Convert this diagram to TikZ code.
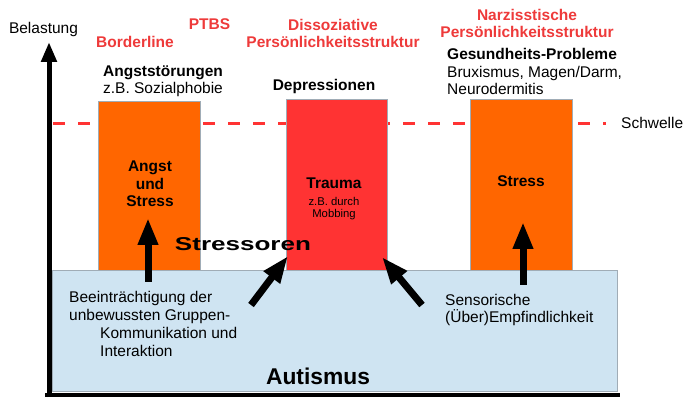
\documentclass[tikz,border=0pt]{standalone}
\usepackage{fontspec}
\usepackage{graphicx}
\usepackage{xcolor}
\setmainfont{Liberation Sans}
\usetikzlibrary{arrows.meta}

\definecolor{barorange}{RGB}{255,102,0}
\definecolor{barred}{RGB}{255,51,51}
\definecolor{labelred}{RGB}{238,58,58}
\definecolor{autblue}{RGB}{207,228,242}
\definecolor{edgegray}{RGB}{160,172,182}

\begin{document}
\begin{tikzpicture}[x=1pt,y=1pt,yscale=-1,xscale=1,
  every node/.style={inner sep=0pt,font=\fontsize{15.5}{17.8}\selectfont},
  redlabel/.style={text=labelred,font=\fontsize{15.5}{17.8}\selectfont\bfseries},
  boldlabel/.style={font=\fontsize{15.5}{17.8}\selectfont\bfseries},
  bar/.style={draw=edgegray,line width=0.6,anchor=north west},
  bigarrow/.style={line width=7,-{Triangle[length=27pt,width=19pt]}}]
\useasboundingbox (0,0) rectangle (683,398);

%Dashed threshold
\coordinate (schwelleL) at (53,124);
\coordinate (schwelleR) at (606,124);
\draw [draw=barred,line width=3,dash pattern={on 12pt off 13pt}] (schwelleL) -- (schwelleR) ;

%Shape: Rectangle (Autismus)
\node [draw=edgegray,line width=0.6,fill=autblue,anchor=north west,minimum width=565,minimum height=121] (autbox) at (52,270) {};
%Shape: Rectangles (bars)
\node [bar,fill=barorange,minimum width=102,minimum height=169] (angstbar) at (98,101) {};
\node [bar,fill=barred,minimum width=101,minimum height=171] (traumabar) at (286,99) {};
\node [bar,fill=barorange,minimum width=102,minimum height=171] (stressbar) at (470,99) {};

%Axes
\coordinate (origin) at (49,397);
\coordinate (ytop) at (49,42);
\coordinate (xleft) at (45,395);
\coordinate (xright) at (620,395);
\draw [line width=4] (xleft) -- (xright) ;
\draw [line width=5,-{Triangle[length=20pt,width=15pt]}] (origin) -- (ytop) ;

%Arrows
\coordinate (angstfoot) at (148,282);
\coordinate (angsttip) at (148,218);
\coordinate (gruppefoot) at (251,305);
\coordinate (traumatipL) at (288,256);
\coordinate (sensorfoot) at (422,305);
\coordinate (traumatipR) at (382,257);
\coordinate (stressfoot) at (523,285);
\coordinate (stresstip) at (523,222);
\draw [bigarrow] (angstfoot) -- (angsttip) ;
\draw [bigarrow] (gruppefoot) -- (traumatipL) ;
\draw [bigarrow] (sensorfoot) -- (traumatipR) ;
\draw [bigarrow] (stressfoot) -- (stresstip) ;

% Text Node
\node [anchor=base] (belastung) at (43.5,34) {Belastung};
\node [anchor=base west] (schwelle) at (621,129) {Schwelle};
% Text Node (base = last line)
\node [redlabel,anchor=base] (borderline) at (135,48) {Borderline};
\node [redlabel,anchor=base] (ptbs) at (209.5,30) {PTBS};
\node [redlabel,anchor=base,align=center] (dissoziativ) at (333,48) {Dissoziative\\Persönlichkeitsstruktur};
\node [redlabel,anchor=base,align=center] (narzisst) at (527,38) {Narzisstische\\Persönlichkeitsstruktur};
% Text Node
\node [anchor=base,align=center] (angststoer) at (163,94) {\textbf{Angststörungen}\\z.B. Sozialphobie};
\node [boldlabel,anchor=base] (depression) at (324,91) {Depressionen};
\node [anchor=base west,align=left] (gesundheit) at (447,95) {\textbf{Gesundheits-Probleme}\\Bruxismus, Magen/Darm,\\Neurodermitis};
% Text Node
\node [boldlabel,anchor=base,align=center] (angsttext) at (150,207) {Angst\\und\\Stress};
\node [boldlabel,anchor=base] (traumatext) at (334,189) {Trauma};
\node [anchor=base,align=center,font=\fontsize{11.3}{12.5}\selectfont] (traumasub) at (334,218) {z.B. durch\\Mobbing};
\node [boldlabel,anchor=base] (stresstext) at (521,187) {Stress};
\node [anchor=base,font=\fontsize{18.6}{20}\selectfont\bfseries] (stressoren) at (243,250.5) {\scalebox{1.4}[1]{Stressoren}};
% Text Node
\node [anchor=base west,align=left] (gruppe) at (69,356) {Beeinträchtigung der\\unbewussten Gruppen-\\\hspace*{31pt}Kommunikation und\\\hspace*{31pt}Interaktion};
\node [anchor=base west,align=left] (sensorik) at (445,323) {Sensorische\\(Über)Empfindlichkeit};
\node [anchor=base,font=\fontsize{22.8}{24}\selectfont\bfseries] (autismus) at (318,384) {Autismus};

\end{tikzpicture}
\end{document}
